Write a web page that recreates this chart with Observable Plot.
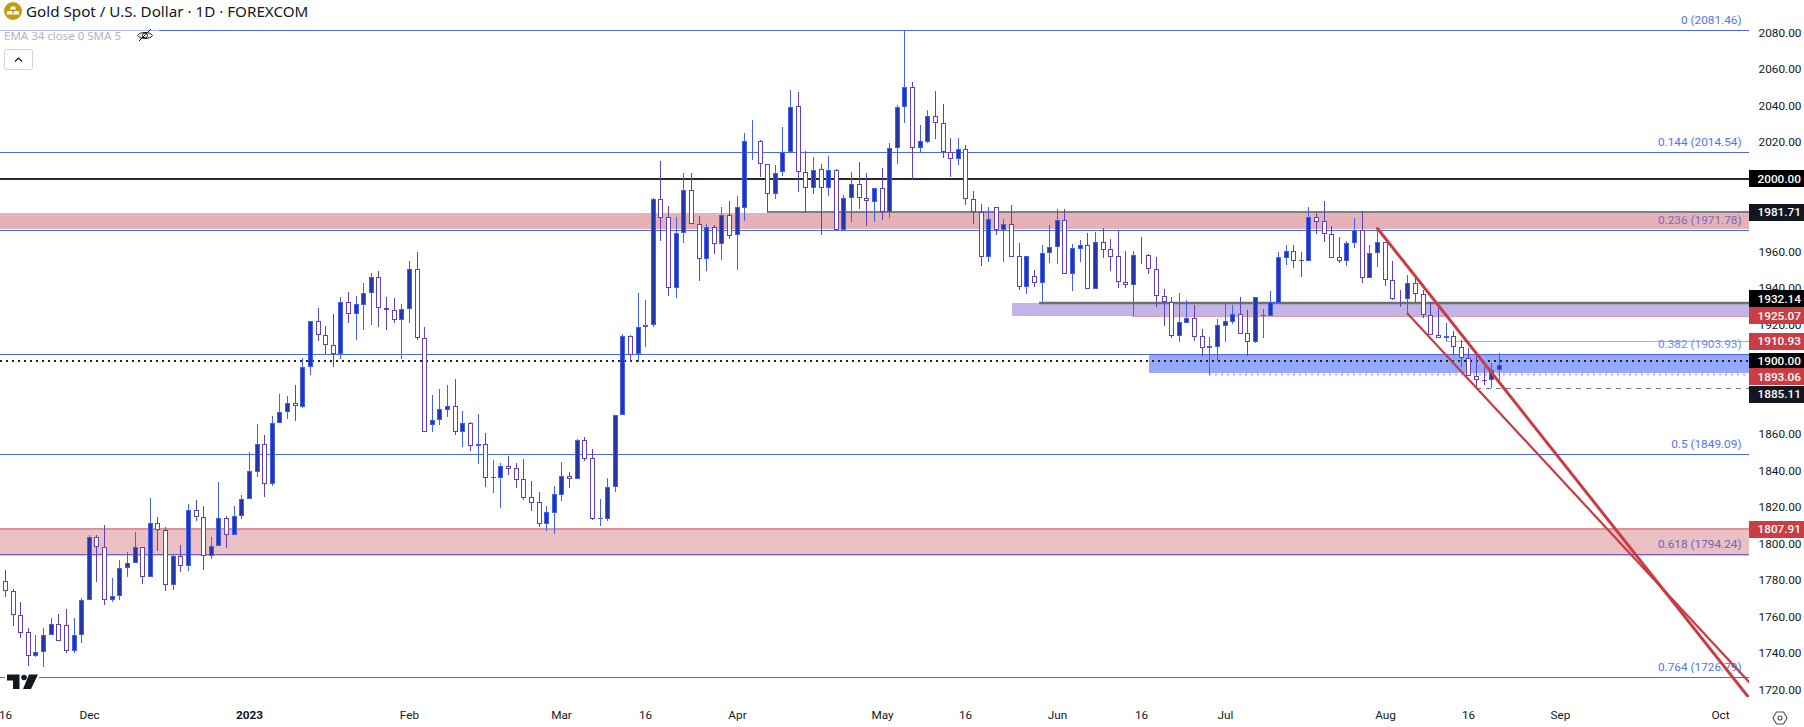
<!DOCTYPE html>
<html>
<head>
<meta charset="utf-8">
<script src="https://cdn.jsdelivr.net/npm/d3@7"></script>
<script src="https://cdn.jsdelivr.net/npm/@observablehq/plot@0.6"></script>
<style>
  html,body{margin:0;padding:0;background:#fff;overflow:hidden}
  #wrap{position:relative;width:1804px;height:727px;font-family:"Noto Sans",sans-serif}
  #wrap svg{display:block}
  .ov{position:absolute;white-space:nowrap}
</style>
</head>
<body>
<div id="wrap"></div>
<script>
// Daily gold candles, 16 Nov 2022 onward (index = trading-day number)
const highs = [
1785.6,1775.0,1768.0,1753.8,1750.0,1753.8,1759.3,1761.5,1764.2,1759.3,
1770.2,1804.8,1804.8,1810.3,1781.2,1791.1,1795.5,1806.4,1798.0,1825.1,
1814.7,1809.2,1794.4,1799.3,1821.8,1824.0,1820.7,1803.7,1833.8,1815.2,
1820.7,1826.7,1850.3,1865.6,1859.6,1870.0,1882.1,1881.0,1887.0,1901.6,
1922.1,1929.2,1919.4,1925.9,1935.1,1938.0,1935.8,1942.9,1948.4,1949.5,
1935.1,1934.7,1931.4,1955.0,1959.9,1918.8,1881.5,1884.8,1887.0,1890.3,
1872.8,1866.7,1871.1,1860.7,1845.9,1844.3,1848.1,1844.3,1846.4,1834.4,
1828.4,1820.7,1831.6,1844.8,1839.3,1857.2,1858.5,1851.9,1824.5,1836.0,
1870.6,1915.0,1914.4,1937.4,1933.6,1989.5,2009.8,1985.1,1979.1,2003.1,
2003.2,1979.6,1975.3,1974.7,1984.6,1987.9,1990.6,2025.2,2032.3,2021.3,
2008.0,2007.6,2028.4,2048.7,2047.6,2015.3,2012.0,2008.2,2012.6,2005.4,
1991.2,2003.8,2009.3,2003.2,1994.8,2006.0,2019.7,2040.5,2081.46,2053.1,
2029.5,2037.8,2048.2,2041.1,2022.4,2022.4,2018.6,1993.4,1986.2,1984.6,
1984.4,1978.0,1985.7,1964.9,1957.6,1950.1,1963.8,1974.7,1983.5,1983.5,
1964.3,1966.5,1970.3,1970.9,1973.1,1967.1,1971.6,1960.5,1960.5,1968.2,
1958.8,1957.2,1939.6,1935.3,1937.4,1933.6,1930.9,1917.7,1913.3,1923.2,
1931.4,1930.9,1935.3,1928.1,1935.1,1928.7,1938.5,1959.9,1963.8,1963.8,
1959.9,1984.6,1981.3,1987.9,1974.2,1968.2,1966.0,1978.6,1982.4,1963.8,
1972.0,1965.2,1955.0,1939.1,1947.3,1946.2,1939.1,1932.5,1930.9,1921.0,
1916.6,1911.7,1907.3,1904.6,1896.9,1899.1,1904.4];
const bodyTops = [
1779.4,1773.9,1760.7,1751.4,1740.5,1749.8,1755.8,1755.8,1755.3,1749.8,
1769.0,1803.5,1803.5,1798.0,1771.2,1786.5,1789.3,1798.0,1798.0,1811.2,
1811.2,1807.3,1793.1,1793.1,1818.3,1818.3,1814.5,1798.6,1813.9,1813.9,
1815.0,1824.3,1839.7,1854.5,1854.5,1866.0,1872.0,1877.0,1877.0,1896.7,
1921.9,1921.9,1914.2,1908.8,1932.3,1932.3,1931.2,1937.3,1946.0,1946.0,
1929.0,1927.9,1928.5,1950.4,1950.4,1912.6,1867.6,1873.7,1875.3,1875.3,
1866.0,1866.0,1854.5,1854.5,1836.6,1842.4,1842.4,1841.3,1835.3,1825.4,
1822.7,1817.2,1827.1,1836.9,1836.9,1856.7,1856.7,1846.8,1813.9,1830.9,
1870.4,1913.7,1913.7,1918.6,1919.7,1988.8,1988.8,1978.9,1970.2,1993.8,
1993.8,1975.1,1973.5,1973.5,1980.0,1980.0,1984.4,2020.6,2020.5,2020.6,
2008.0,2003.4,2014.9,2039.6,2039.8,2004.0,2005.0,2005.3,2004.7,2004.7,
1989.4,1997.0,1997.0,1989.4,1994.8,1994.8,2016.8,2039.2,2050.2,2050.2,
2020.6,2034.3,2034.3,2030.5,2014.6,2016.2,2016.2,1988.8,1981.7,1977.8,
1984.4,1975.1,1975.1,1957.6,1957.6,1946.6,1959.2,1962.5,1977.3,1977.3,
1961.9,1963.6,1963.6,1965.2,1965.2,1961.4,1957.6,1943.6,1958.1,1958.0,
1958.1,1950.4,1936.0,1932.7,1921.4,1923.6,1923.6,1913.7,1908.2,1919.7,
1922.0,1925.8,1925.8,1915.3,1935.1,1925.2,1932.3,1957.0,1960.3,1960.3,
1955.4,1978.9,1978.9,1976.7,1969.6,1957.0,1964.7,1971.8,1971.8,1959.2,
1965.2,1965.2,1944.4,1934.4,1942.8,1942.8,1936.7,1925.2,1914.3,1913.7,
1913.7,1907.7,1901.6,1891.8,1889.8,1895.1,1897.8];
const bodyBottoms = [
1773.9,1760.7,1751.2,1738.3,1738.3,1740.5,1749.8,1746.5,1741.4,1741.4,
1749.8,1769.0,1798.0,1769.0,1769.0,1771.2,1786.5,1789.3,1781.6,1781.6,
1807.3,1777.2,1777.2,1787.6,1787.6,1814.5,1793.1,1793.1,1798.6,1804.6,
1804.6,1815.0,1824.3,1839.5,1832.6,1832.6,1866.0,1872.0,1875.3,1875.1,
1896.7,1914.2,1908.8,1904.0,1904.0,1926.1,1926.1,1931.1,1937.3,1929.0,
1927.9,1922.8,1922.8,1928.5,1912.6,1861.4,1865.3,1867.6,1873.5,1861.4,
1861.4,1853.8,1853.8,1836.2,1836.2,1836.2,1841.1,1835.1,1825.3,1822.5,
1811.0,1811.0,1817.0,1826.9,1835.7,1835.7,1846.6,1813.7,1813.6,1813.7,
1830.9,1870.4,1903.5,1903.8,1918.6,1919.7,1978.7,1940.4,1940.4,1970.2,
1975.1,1956.3,1956.3,1964.5,1964.5,1968.9,1969.1,1984.2,2020.2,2008.0,
1991.6,1991.6,2003.6,2014.9,2004.0,1994.8,1994.8,1994.8,1994.8,1971.8,
1971.8,1989.4,1989.4,1987.7,1987.5,1982.0,1982.0,2016.8,2039.2,2016.8,
2016.8,2020.4,2030.5,2014.6,2010.7,2010.7,1988.8,1981.7,1957.3,1957.3,
1971.8,1971.8,1957.3,1940.9,1940.9,1943.1,1943.1,1959.2,1962.5,1948.0,
1948.0,1961.7,1939.8,1939.8,1961.2,1957.3,1943.6,1942.0,1942.0,1957.7,
1950.4,1936.0,1932.7,1914.0,1914.0,1921.2,1913.5,1907.5,1907.5,1908.0,
1919.5,1921.7,1915.1,1910.8,1910.8,1925.0,1925.0,1932.1,1956.8,1955.2,
1954.8,1954.8,1976.5,1969.6,1956.8,1954.8,1954.8,1964.7,1945.8,1945.8,
1959.2,1944.4,1934.3,1933.9,1934.0,1936.7,1925.2,1914.3,1912.6,1912.6,
1907.7,1901.6,1891.8,1889.6,1889.4,1889.6,1895.1];
const lows = [
1771.0,1754.9,1748.3,1733.0,1738.1,1732.6,1749.8,1746.5,1740.3,1740.3,
1745.8,1769.0,1779.2,1766.4,1768.1,1769.2,1781.8,1789.3,1777.9,1781.6,
1796.0,1774.1,1774.6,1784.5,1785.0,1812.5,1785.6,1791.6,1798.6,1797.7,
1804.6,1813.7,1824.3,1836.7,1825.8,1831.8,1866.0,1868.5,1867.4,1874.4,
1892.7,1911.3,1903.8,1897.1,1901.5,1921.2,1911.7,1917.2,1919.9,1919.0,
1917.2,1921.0,1901.5,1921.0,1911.9,1861.4,1861.3,1865.1,1869.5,1859.6,
1853.0,1850.8,1843.7,1831.1,1827.8,1819.6,1837.7,1830.5,1824.0,1817.9,
1809.4,1807.0,1805.3,1823.4,1830.5,1835.7,1845.5,1813.0,1809.7,1812.5,
1828.4,1870.4,1899.6,1899.6,1908.0,1919.0,1966.1,1936.0,1934.9,1965.0,
1975.1,1944.2,1949.7,1958.8,1955.5,1967.1,1950.1,1976.9,2010.4,2001.0,
1981.8,1989.0,2001.6,2014.9,1992.8,1981.5,1991.7,1969.2,1990.6,1971.8,
1971.8,1976.4,1983.5,1974.2,1976.4,1977.5,1978.6,2008.2,2030.6,1999.4,
2014.7,2019.7,2021.9,2011.5,2001.0,2007.6,1985.7,1975.3,1952.2,1954.4,
1969.2,1954.4,1957.3,1939.1,1936.9,1940.9,1932.5,1954.1,1953.3,1948.0,
1938.5,1954.4,1939.8,1939.8,1956.6,1949.5,1940.2,1940.2,1925.0,1953.3,
1947.9,1929.8,1919.4,1912.8,1910.6,1921.2,1911.1,1902.9,1892.5,1900.7,
1910.6,1920.5,1915.1,1902.9,1910.0,1912.8,1925.0,1932.1,1952.8,1951.2,
1946.2,1954.8,1969.8,1965.4,1956.8,1953.9,1952.2,1962.1,1942.9,1945.8,
1951.7,1941.3,1933.6,1929.8,1926.5,1932.5,1923.7,1914.3,1912.6,1911.1,
1903.5,1896.9,1891.8,1885.2,1887.2,1885.2,1889.6];
// Day indexes that closed higher (solid candles); all others closed lower
const risingDays = [4,5,6,9,10,11,14,15,16,17,19,22,24,27,28,30,31,32,33,35,36,37,39,40,44,46,47,48,52,53,56,57,58,60,62,64,65,71,72,73,75,78,79,80,81,83,84,85,88,89,92,94,96,97,98,101,102,103,106,108,110,111,114,116,117,118,120,121,125,129,131,134,136,137,138,140,141,143,148,154,155,158,159,160,161,164,165,166,167,168,171,176,177,179,180,184,189,195,196];

// Fibonacci retracement levels
const fibRatios = ["0","0.144","0.236","0.382","0.5","0.618","0.764"];
const fibLevels = [2081.46,2014.54,1971.78,1903.93,1849.09,1794.24,1726.79];
const fibColors = ["#5273f5","#5273f5","#7468c4","#6f86f7","#5273f5","#6a62c8","#5273f5"];

// Axis labels
const yTicks = [2080,2060,2040,2020,2000,1980,1960,1940,1920,1900,1880,1860,1840,1820,1800,1780,1760,1740,1720];
const dayTicks = [0,11,53,73,84,96,115,126,138,149,160,181,192,204,225];
const dayTickLabels = ["16","Dec","Feb","Mar","16","Apr","May","16","Jun","16","Jul","Aug","16","Sep","Oct"];
const yearTick = 32, yearLabel = "2023";

// Price-axis badges
const badgeValues = [2000.00,1981.71,1932.14,1925.07,1910.93,1900.00,1893.06,1885.11,1807.91];
const badgeColors = ["#000000","#131722","#000000","#cc3d43","#cc3d43","#000000","#cc3d43","#131722","#cc3d43"];
const badgeShift  = [0,0,-4,0,0,0,3,6,0];

// Trend-line channel
const channelUpper = [{x:180,y:1972.9},{x:228.81,y:1715.3}];
const channelLower = [{x:184,y:1926.3},{x:228.81,y:1724.4}];

const xMax = 228.81, xRight = 236.03, labelX = 227.76, badgeTextX = 229.9;
const TICK_FONT = 11.8;

const candles = highs.map((h,i)=>({i,high:h,low:lows[i],top:bodyTops[i],bottom:bodyBottoms[i],up:risingDays.includes(i)}));
const rising = candles.filter(d=>d.up), falling = candles.filter(d=>!d.up);
const BLUE="#4060f8", NAVY="#2537a8", PURPLE="#6040c0";

function seg(value, from, stroke, strokeWidth, extra={}){
  return Plot.ruleY([value],{x1:from,x2:xMax,stroke,strokeWidth,...extra});
}
function band(y1,y2,from,fill,fillOpacity){
  return Plot.rect([0],{x1:from,x2:xMax,y1,y2,fill,fillOpacity});
}
function candleMarks(data,wick,edge,fill){
  return [
    Plot.ruleX(data,{x:"i",y1:"high",y2:"low",stroke:wick,strokeWidth:1}),
    Plot.ruleX(data,{x:"i",y1:"top",y2:"bottom",stroke:edge,strokeWidth:5}),
    Plot.ruleX(data.filter(d=>d.top-d.bottom>1.2),{x:"i",y1:"top",y2:"bottom",stroke:fill,strokeWidth:3,insetTop:1,insetBottom:1})
  ];
}

const chart = Plot.plot({
  width:1804,height:727,
  marginLeft:0,marginRight:55,marginTop:0,marginBottom:30,
  style:{background:"#fff",fontFamily:'Roboto,sans-serif',fontSize:"12px",color:"#131722"},
  x:{domain:[-0.656,xMax],range:[0,1749],round:true},
  y:{domain:[1715.98,2098.07],range:[697,0],round:true},
  marks:[
    Plot.ruleY(fibLevels,{x1:-0.656,x2:xMax,stroke:"#4a68f8",strokeWidth:1}),
    band(1972.5,1981.3,-0.656,"#c8505a",0.44),
    band(1793.4,1807.91,-0.656,"#c8505a",0.36),
    band(1925.07,1931.9,132.1,"#8a70d0",0.52),
    band(1893.5,1903.6,150.1,"#4060f8",0.55),
    seg(2000,-0.656,"#2a2a2a",2,{dy:-0.5}),
    seg(1807.91,-0.656,"#e09096",2,{dy:-0.5}),
    seg(1981.71,100,"#7f7f7f",2,{dy:-0.5}),
    seg(1932.14,135.7,"#6f6f6f",2.5,{dy:-0.5}),
    seg(1925.07,147.9,"#e2a0a6",1),
    seg(1910.93,189.1,"#e2979c",1),
    seg(1893.06,158,"#e8a0a8",2,{strokeDasharray:"2,4",dy:0}),
    seg(1900,-0.656,"#222",2,{strokeDasharray:"2,4",dy:-0.5}),
    seg(1885.11,193,"#777",1,{strokeDasharray:"5,5"}),
    Plot.axisY({anchor:"right",ticks:yTicks,tickSize:0,tickPadding:9,tickFormat:d=>d.toFixed(2),label:null,fontSize:TICK_FONT}),
    Plot.axisX({anchor:"bottom",ticks:dayTicks,tickSize:0,tickPadding:13,tickFormat:d=>dayTickLabels[dayTicks.indexOf(d)],label:null,fontSize:TICK_FONT}),
    Plot.axisX({anchor:"bottom",ticks:[yearTick],tickSize:0,tickPadding:13,tickFormat:()=>yearLabel,label:null,fontSize:TICK_FONT,fontWeight:700}),
    ...fibLevels.map((v,k)=>Plot.text([v],{x:labelX,y:d=>d,text:d=>`${fibRatios[k]} (${d.toFixed(2)})`,textAnchor:"end",dy:-10,fill:fibColors[k],fontSize:TICK_FONT})),
    ...candleMarks(falling,PURPLE,PURPLE,"#ffffff"),
    ...candleMarks(rising,BLUE,BLUE,NAVY),
    Plot.line(channelUpper,{x:"x",y:"y",stroke:"#c93c42",strokeWidth:3,clip:true}),
    Plot.line(channelLower,{x:"x",y:"y",stroke:"#c93c42",strokeWidth:2.2,clip:true}),
    ...badgeValues.flatMap((v,k)=>[
      Plot.rect([v],{x1:xMax,x2:xRight,y1:d=>d-4.66,y2:d=>d+4.66,fill:badgeColors[k],dy:badgeShift[k]}),
      Plot.text([v],{x:badgeTextX,y:d=>d,text:d=>d.toFixed(2),textAnchor:"start",fill:"#fff",fontSize:TICK_FONT,fontWeight:500,dy:badgeShift[k]})
    ])
  ]
});
const wrap=document.getElementById("wrap");
wrap.appendChild(chart);

function overlay(html,style){
  const e=document.createElement("div");e.className="ov";e.style.cssText=style;e.innerHTML=html;wrap.appendChild(e);return e;
}
// Header
overlay("", "left:0;top:28px;width:159px;height:16px;background:rgba(255,255,255,.55)");
overlay(`<svg width="18" height="18" viewBox="0 0 18 18"><circle cx="9" cy="9" r="9" fill="#c49a12"/><path d="M7 4.5h4l1 3H6z M3.5 9h4.4l1 3.4H2.5z M10 9h4.4l1.1 3.4H9z" fill="#fff"/></svg>`,"left:4px;top:2px;line-height:0");
overlay("Gold Spot / U.S. Dollar · 1D · FOREXCOM","left:26px;top:0px;font-size:15.2px;line-height:22px;color:#131722");
overlay("EMA 34 close 0 SMA 5","left:4px;top:27px;font-size:11.5px;line-height:18px;color:#b2b5be");
overlay(`<svg width="18" height="16" viewBox="0 0 18 16" fill="none" stroke="#131722" stroke-width="1"><path d="M1.5 8.5C4 4.5 14 4.5 16.5 8.5C14 12.5 4 12.5 1.5 8.5Z"/><circle cx="9" cy="8.5" r="2.5"/><path d="M3 14L15 2"/></svg>`,"left:136px;top:27px;line-height:0");
overlay(`<svg width="29" height="21" viewBox="0 0 29 21"><rect x=".5" y=".5" width="28" height="20" rx="2" fill="#fff" stroke="#d1d4dc"/><path d="M11 12.5l3.5-3.5 3.5 3.5" fill="none" stroke="#131722" stroke-width="1.2"/></svg>`,"left:4px;top:49px;line-height:0");
// Logo and settings
overlay(`<svg width="34" height="19" viewBox="0 0 34 19"><rect width="34" height="19" fill="#fff"/><path d="M2 1.5h12.5v14.5H8V7.5H2z" fill="#131722"/><circle cx="19" cy="4.5" r="2.8" fill="#131722"/><path d="M24 1.5h9L26 16h-8z" fill="#131722"/></svg>`,"left:5px;top:673px;line-height:0");
overlay(`<svg width="18" height="18" viewBox="0 0 18 18" fill="none" stroke="#4a4e59" stroke-width="1.1"><path d="M2 9l3.5-6h7L16 9l-3.5 6h-7z"/><circle cx="9" cy="9" r="2"/></svg>`,"left:1771px;top:709px;line-height:0");
</script>
</body>
</html>
